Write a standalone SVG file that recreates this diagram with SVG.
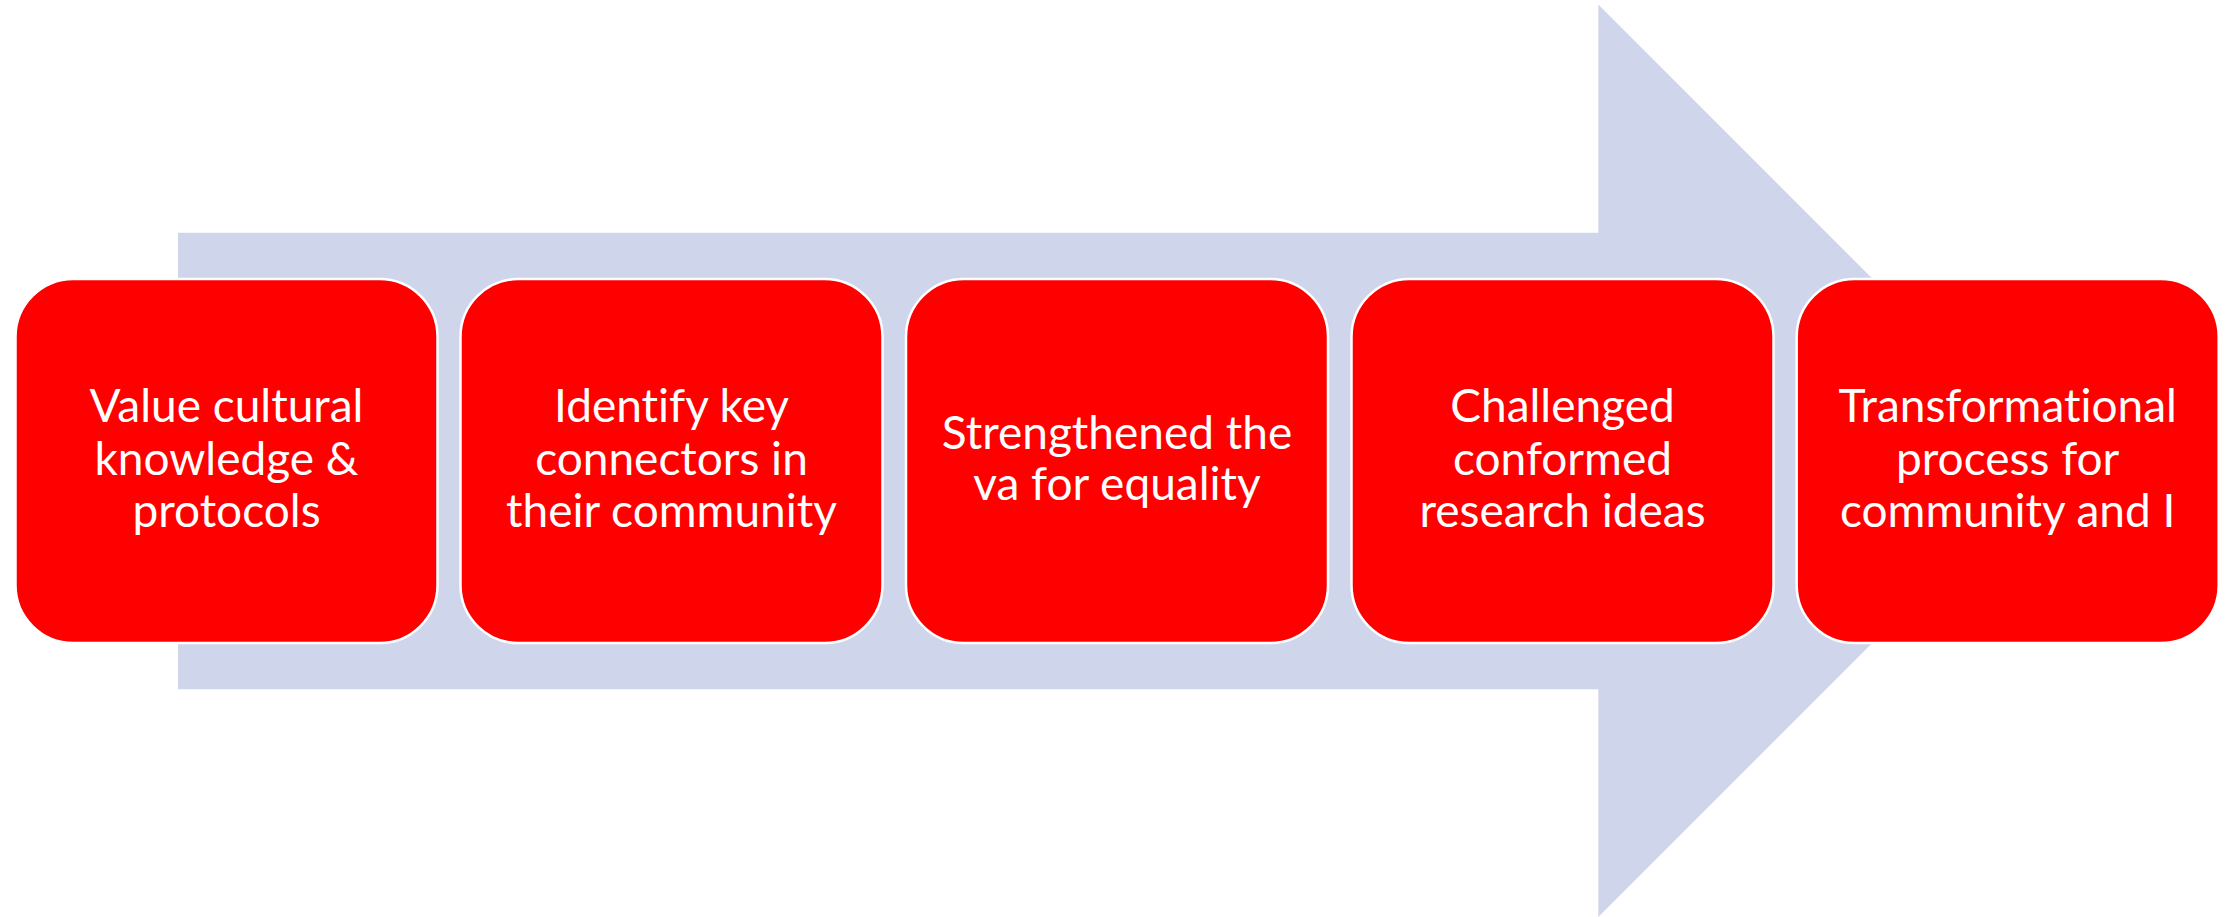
<svg xmlns="http://www.w3.org/2000/svg" width="2233" height="917" viewBox="0 0 2233 917">
<style>
.box{fill:#FF0000;stroke:#FFFFFF;stroke-width:2.5}
.lbl{fill:#FFFFFF;font-family:Lato,"Open Sans","Liberation Sans",sans-serif;font-size:46px;text-anchor:middle;font-variant-ligatures:none}
</style>
<rect width="2233" height="917" fill="#FFFFFF"/>
<g id="arrow">
<polygon points="178,232.7 1598.3,232.7 1598.3,4.5 2054.5,460.8 1598.3,917 1598.3,689.3 178,689.3" fill="#CFD5EA"/>
</g>
<g id="connectors"></g>
<g id="node1">
<rect class="box" x="15.5" y="279" width="422" height="364" rx="58"/>
<text class="lbl"><tspan x="226.5" y="421.7">Value cultural</tspan><tspan x="226.5" y="474.5">knowledge &amp;</tspan><tspan x="226.5" y="526.7">protocols</tspan></text>
</g>
<g id="node2">
<rect class="box" x="460.5" y="279" width="422" height="364" rx="58"/>
<text class="lbl"><tspan x="671.5" y="421.7">Identify key</tspan><tspan x="671.5" y="474.5">connectors in</tspan><tspan x="671.5" y="526.7">their community</tspan></text>
</g>
<g id="node3">
<rect class="box" x="906" y="279" width="422" height="364" rx="58"/>
<text class="lbl"><tspan x="1117" y="449">Strengthened the</tspan><tspan x="1117" y="500">va for equality</tspan></text>
</g>
<g id="node4">
<rect class="box" x="1351.5" y="279" width="422" height="364" rx="58"/>
<text class="lbl"><tspan x="1562.5" y="421.7">Challenged</tspan><tspan x="1562.5" y="474.5">conformed</tspan><tspan x="1562.5" y="526.7">research ideas</tspan></text>
</g>
<g id="node5">
<rect class="box" x="1796.7" y="279" width="422" height="364" rx="58"/>
<text class="lbl"><tspan x="2007.7" y="421.7">Transformational</tspan><tspan x="2007.7" y="474.5">process for</tspan><tspan x="2007.7" y="526.7">community and I</tspan></text>
</g>
</svg>
